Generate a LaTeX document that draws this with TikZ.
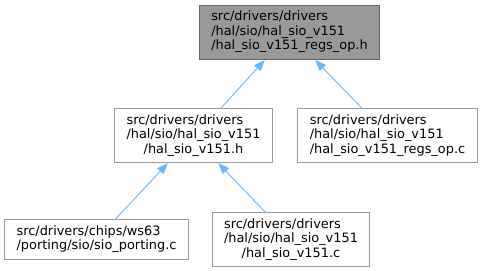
\documentclass[tikz,border=0pt]{standalone}
\usepackage{fontspec}
\setmainfont{DejaVu Sans}
\usepackage{tikz}
\usetikzlibrary{arrows.meta, positioning}
\usepackage{xcolor}
\definecolor{rootcolor}{HTML}{999999}
\definecolor{rootborder}{HTML}{666666}
\definecolor{filecolor}{HTML}{999999}
\definecolor{depcolor}{HTML}{63B8FF}
\newcommand{\pathl}[1]{\begin{tabular}{@{}l@{}}#1\end{tabular}}
\newcommand{\lastc}[1]{\multicolumn{1}{@{}c@{}}{#1}}

\begin{document}
\begin{tikzpicture}[
    font=\fontsize{12.9}{14.5}\selectfont,
    file/.style={rectangle, draw=filecolor, line width=1pt, fill=white, inner xsep=12pt, inner ysep=5.3pt},
    rootfile/.style={file, draw=rootborder, fill=rootcolor},
    dep/.style={{Triangle[length=11pt,width=8.5pt]}-, draw=depcolor, line width=0.9pt}
]
\useasboundingbox (0pt,0pt) rectangle (483pt,-271pt);

\node[rootfile] (hregs) at (289.5pt,-32.5pt) {\pathl{src/drivers/drivers\\/hal/sio/hal\_sio\_v151\\/hal\_sio\_v151\_regs\_op.h}};

\node[file, below=48pt of hregs, xshift=-96pt] (hsio) {\pathl{src/drivers/drivers\\/hal/sio/hal\_sio\_v151\\\lastc{/hal\_sio\_v151.h}}};
\node[file, below=48pt of hregs, xshift=98pt] (cregs) {\pathl{src/drivers/drivers\\/hal/sio/hal\_sio\_v151\\/hal\_sio\_v151\_regs\_op.c}};

\node[file, below=56pt of hsio, xshift=-97pt] (porting) {\pathl{src/drivers/chips/ws63\\/porting/sio/sio\_porting.c}};
\node[file, below=49pt of hsio, xshift=97.5pt] (csio) {\pathl{src/drivers/drivers\\/hal/sio/hal\_sio\_v151\\\lastc{/hal\_sio\_v151.c}}};

\draw[dep] (hregs.228) -- (hsio.45);
\draw[dep] (hregs.-47) -- (cregs.133);
\draw[dep] (hsio.227) -- (porting.47);
\draw[dep] (hsio.-48) -- (csio.133);
\end{tikzpicture}
\end{document}
